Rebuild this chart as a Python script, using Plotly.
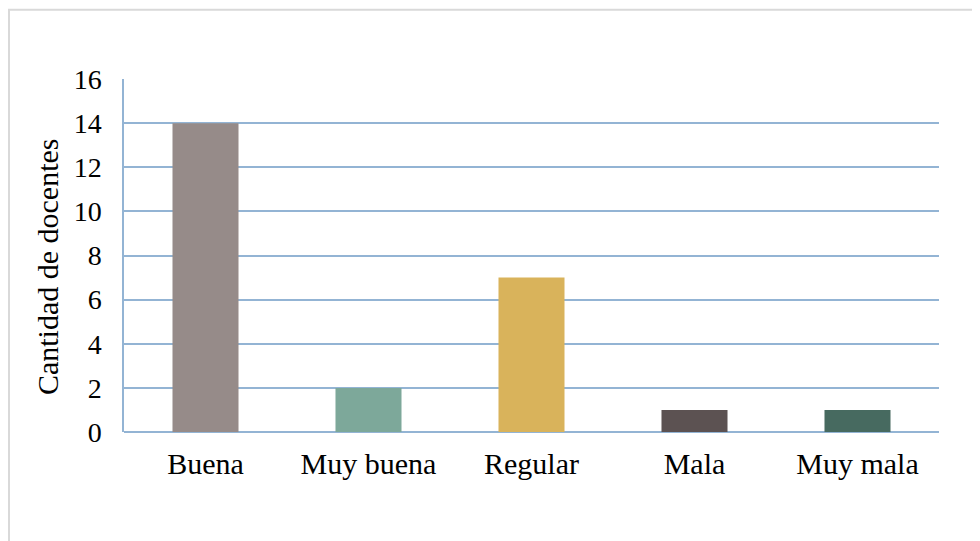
import plotly.graph_objects as go

categories = ["Buena", "Muy buena", "Regular", "Mala", "Muy mala"]
values = [14, 2, 7, 1, 1]
colors = ["#968b89", "#7da89a", "#d9b35b", "#5c5252", "#476a60"]
y_ticks = [0, 2, 4, 6, 8, 10, 12, 14, 16]

fig = go.Figure()
fig.add_trace(
    go.Bar(
        x=categories,
        y=values,
        marker=dict(color=colors, line=dict(width=0)),
        width=0.405,
    )
)

# chart area border (runs off the right and bottom edges)
fig.add_shape(
    type="rect", xref="paper", yref="paper",
    x0=-0.1411, x1=1.2, y0=-0.5, y1=1.196,
    line=dict(color="#d9d9d9", width=2), layer="below",
)

# y axis title, placed by hand (sits a bit below the plot centre)
fig.add_annotation(
    text="Cantidad de docentes", textangle=-90,
    xref="paper", yref="paper", x=-0.0945, y=0.47,
    xanchor="center", yanchor="middle",
    showarrow=False, font=dict(size=30),
)

fig.update_layout(
    width=980, height=541,
    margin=dict(l=116, r=49, t=71, b=117),
    plot_bgcolor="white", paper_bgcolor="white",
    font=dict(family="Liberation Serif, Times New Roman, serif", size=28, color="black"),
    showlegend=False,
    xaxis=dict(
        showgrid=False, showline=False, ticks="", tickfont=dict(size=30),
        range=[-0.5, 4.5], ticklabelstandoff=11,
    ),
    yaxis=dict(
        range=[0, 16], tickvals=y_ticks, showgrid=True,
        gridcolor="#93b4d4", gridwidth=1.5,
        showline=True, linecolor="#93b4d4", linewidth=1.5,
        zeroline=True, zerolinecolor="#93b4d4", zerolinewidth=1.5,
        ticks="", ticklabelstandoff=15, tickfont=dict(size=28),
    ),
)

fig.write_html("out.html")
